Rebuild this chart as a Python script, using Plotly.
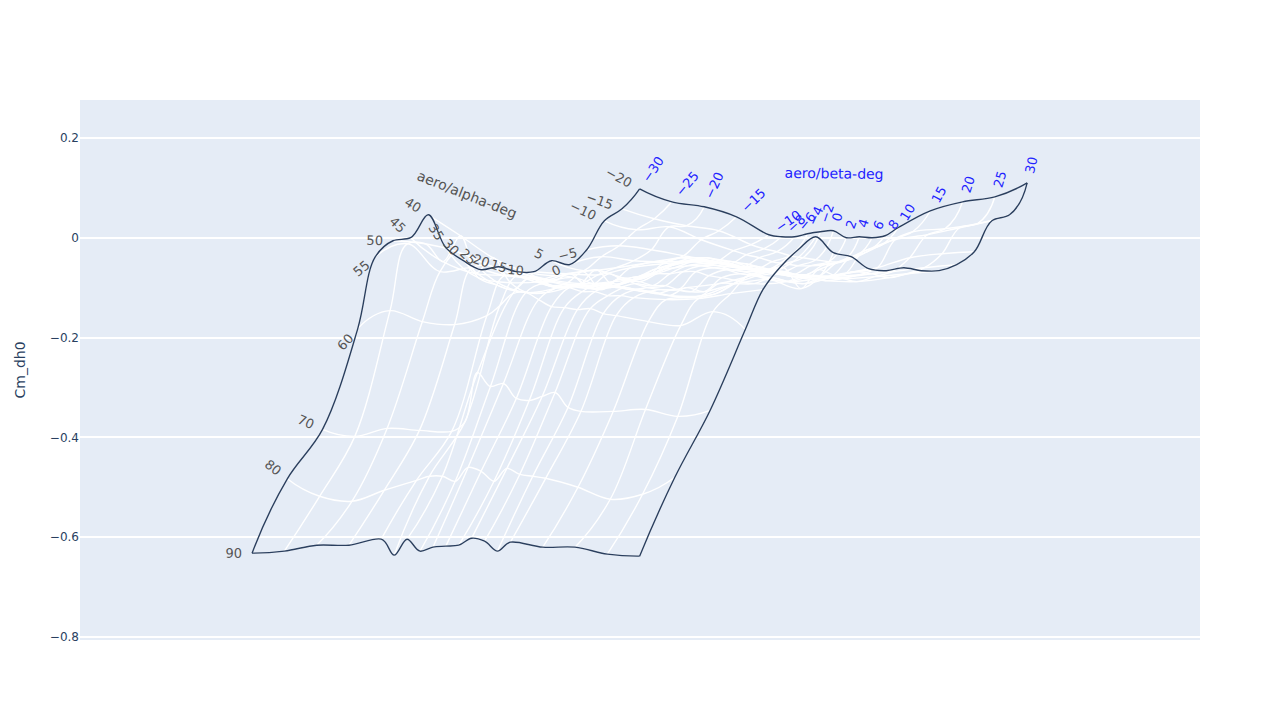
import numpy as np
import plotly.graph_objects as go

alpha_deg = [-20, -15, -10, -5, 0, 5, 10, 15, 20, 25, 30, 35, 40, 45, 50, 55, 60, 70, 80, 90]
beta_deg = [-30, -25, -20, -15, -10, -8, -6, -4, -2, 0, 2, 4, 6, 8, 10, 15, 20, 25, 30]

cm_alpha_m20 = [.098, .072, .062, .042, .006, .002, .002, .008, .012, .014, 0, .002, 0, .004, .020, .054, .072, .082, .110]
cm_alpha_m15 = [.058, .038, .024, .014, -.014, -.022, -.028, -.036, -.040, -.044, -.048, -.048, -.040, -.028, -.016, .012, .018, .028, .046]
cm_alpha_m10 = [.034, .016, .022, -.004, -.026, -.034, -.040, -.048, -.052, -.056, -.056, -.054, -.050, -.040, -.028, -.004, .006, .020, .034]
cm_alpha_m5 = [-.024, -.016, -.024, -.036, -.048, -.054, -.060, -.064, -.068, -.070, -.074, -.074, -.076, -.076, -.072, -.060, -.040, -.032, -.028]
cm_alpha_0 = [-.054, -.038, -.046, -.048, -.046, -.048, -.050, -.056, -.060, -.064, -.070, -.072, -.076, -.078, -.078, -.074, -.068, -.060, -.054]
cm_alpha_5 = [-.046, -.066, -.060, -.050, -.040, -.040, -.040, -.044, -.048, -.052, -.058, -.064, -.068, -.074, -.076, -.082, -.078, -.072, -.066]
cm_alpha_10 = [-.068, -.072, -.074, -.060, -.052, -.050, -.048, -.048, -.050, -.054, -.058, -.062, -.066, -.072, -.078, -.086, -.088, -.080, -.066]
cm_alpha_15 = [-.068, -.084, -.092, -.088, -.080, -.068, -.056, -.048, -.044, -.046, -.052, -.060, -.064, -.068, -.072, -.080, -.080, -.072, -.060]
cm_alpha_20 = [-.058, -.078, -.094, -.102, -.088, -.076, -.064, -.056, -.050, -.048, -.052, -.056, -.064, -.068, -.076, -.088, -.080, -.068, -.066]
cm_alpha_25 = [-.064, -.104, -.110, -.096, -.100, -.092, -.084, -.076, -.064, -.060, -.056, -.056, -.060, -.064, -.072, -.080, -.092, -.076, -.062]
cm_alpha_30 = [-.046, -.094, -.110, -.100, -.092, -.092, -.084, -.080, -.076, -.072, -.072, -.068, -.068, -.076, -.080, -.092, -.088, -.064, -.038]
cm_alpha_35 = [-.020, -.080, -.090, -.088, -.080, -.100, -.104, -.096, -.088, -.088, -.096, -.096, -.104, -.108, -.108, -.092, -.084, -.102, -.030]
cm_alpha_40 = [.046, .004, -.040, -.068, -.076, -.072, -.068, -.064, -.072, -.080, -.092, -.100, -.104, -.104, -.100, -.092, -.076, -.060, .002]
cm_alpha_45 = [0, -.048, -.072, -.076, -.084, -.088, -.092, -.096, -.096, -.096, -.100, -.104, -.108, -.112, -.116, -.116, -.092, -.068, -.024]
cm_alpha_50 = [-.006, -.012, -.028, -.056, -.080, -.088, -.096, -.100, -.096, -.092, -.092, -.096, -.100, -.104, -.108, -.120, -.112, -.076, -.058]
cm_alpha_55 = [-.038, -.012, -.068, -.060, -.076, -.076, -.080, -.092, -.100, -.100, -.108, -.108, -.116, -.116, -.120, -.124, -.122, -.112, -.104]
cm_alpha_60 = [-.182, -.146, -.168, -.174, -.156, -.136, -.112, -.110, -.124, -.138, -.140, -.144, -.142, -.152, -.156, -.168, -.176, -.148, -.184]
cm_alpha_70 = [-.384, -.398, -.382, -.386, -.388, -.370, -.270, -.298, -.292, -.322, -.326, -.318, -.310, -.340, -.348, -.348, -.344, -.358, -.346]
cm_alpha_80 = [-.483, -.518, -.528, -.506, -.486, -.478, -.478, -.488, -.460, -.468, -.488, -.462, -.474, -.478, -.482, -.500, -.524, -.514, -.480]
cm_alpha_90 = [-.632, -.628, -.616, -.616, -.604, -.636, -.604, -.628, -.620, -.618, -.616, -.602, -.608, -.628, -.610, -.620, -.620, -.634, -.638]

rows_by_alpha = [
    cm_alpha_m20, cm_alpha_m15, cm_alpha_m10, cm_alpha_m5, cm_alpha_0, cm_alpha_5, cm_alpha_10,
    cm_alpha_15, cm_alpha_20, cm_alpha_25, cm_alpha_30, cm_alpha_35, cm_alpha_40, cm_alpha_45,
    cm_alpha_50, cm_alpha_55, cm_alpha_60, cm_alpha_70, cm_alpha_80, cm_alpha_90,
]
cm_grid = np.array(rows_by_alpha).T.tolist()

FONT = "DejaVu Sans"

fig = go.Figure(
    go.Carpet(
        a=alpha_deg,
        b=beta_deg,
        y=cm_grid,
        aaxis=dict(
            title=dict(text="aero/alpha-deg", font=dict(color="#555555", size=14, family=FONT)),
            tickmode="array",
            tickvals=alpha_deg,
            tickfont=dict(color="#555555", size=13, family=FONT),
            showticklabels="start",
            gridwidth=1.4,
        ),
        baxis=dict(
            title=dict(text="aero/beta-deg", font=dict(color="#2222ff", size=14, family=FONT)),
            tickmode="array",
            tickvals=beta_deg,
            tickfont=dict(color="#2222ff", size=13, family=FONT),
            showticklabels="start",
            gridwidth=1.4,
        ),
    )
)
fig.update_layout(
    width=1272,
    height=712,
    margin=dict(l=72, r=80, t=92, b=80),
    font=dict(family=FONT),
    xaxis=dict(visible=False, range=[1.222, -0.223]),
    yaxis=dict(title=dict(text="Cm_dh0", standoff=20), range=[-0.806, 0.276], gridwidth=1.5),
)
fig.write_html("out.html")
